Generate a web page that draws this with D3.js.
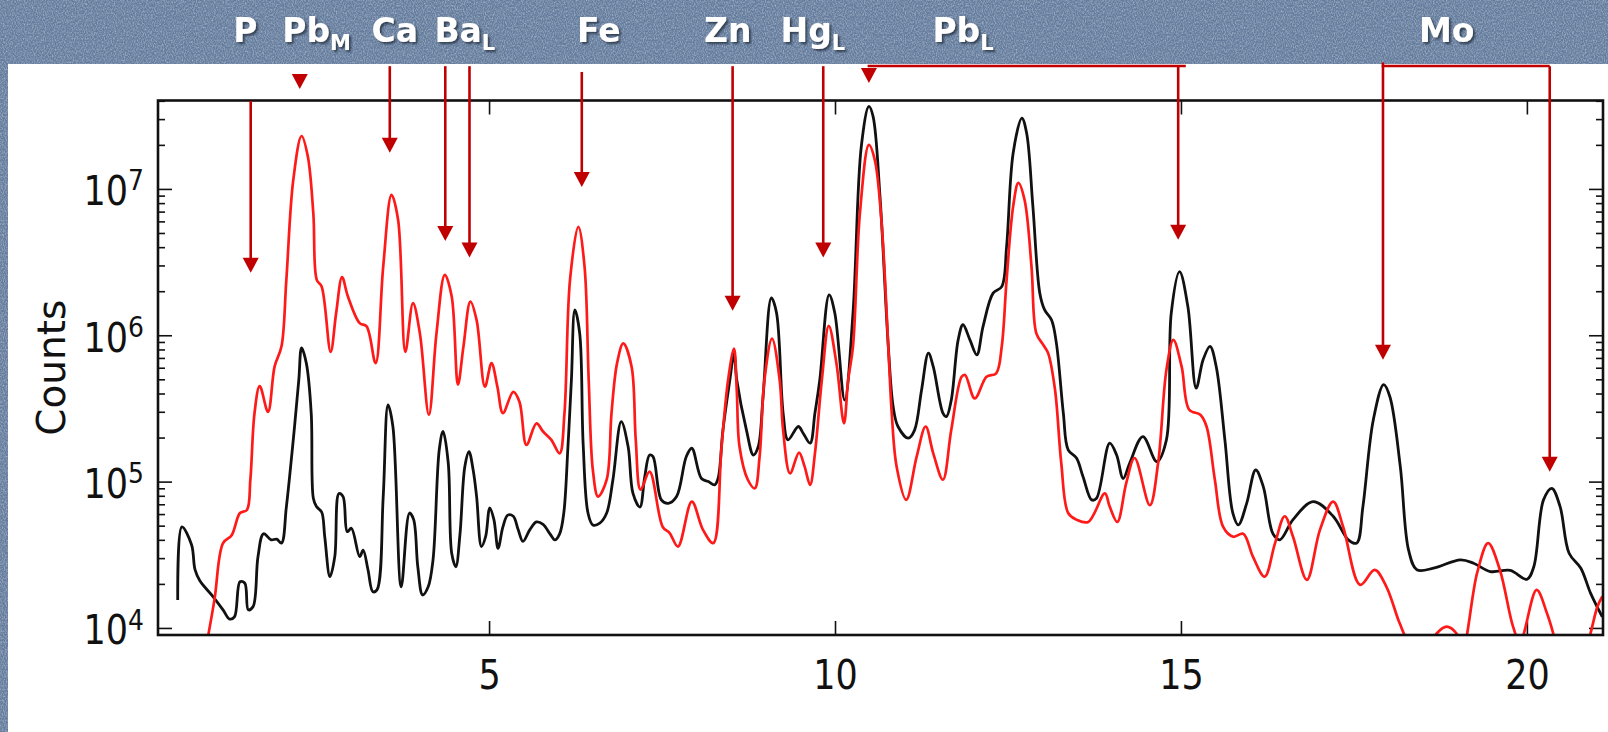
<!DOCTYPE html>
<html>
<head>
<meta charset="utf-8">
<script src="https://cdnjs.cloudflare.com/ajax/libs/d3/7.8.5/d3.min.js"></script>
<style>
  body { margin: 0; overflow: hidden; background: #fff; }
  .tick line { stroke: #111; stroke-width: 1.6; }
  .tick text { font-family: "DejaVu Sans", sans-serif; font-size: 35px; fill: #111; }
</style>
</head>
<body>
<svg id="chart" width="1608" height="732"></svg>
<script>
// spectrum, black trace (energy in keV, counts)
var blackKeV = [
  0.50, 0.56, 0.70, 0.75, 0.82, 1.01, 1.155, 1.25, 1.32, 1.40,
  1.47, 1.52, 1.59, 1.66, 1.74, 1.85, 1.93, 2.00, 2.07, 2.17,
  2.25, 2.29, 2.36, 2.43, 2.46, 2.505, 2.58, 2.625, 2.70, 2.77,
  2.83, 2.89, 2.95, 3.01, 3.13, 3.18, 3.25, 3.32, 3.38, 3.47,
  3.54, 3.61, 3.73, 3.85, 3.91, 3.97, 4.04, 4.12, 4.19, 4.28,
  4.335, 4.41, 4.46, 4.52, 4.58, 4.65, 4.71, 4.77, 4.82, 4.89,
  4.95, 5.01, 5.07, 5.13, 5.20, 5.27, 5.35, 5.42, 5.49, 5.59,
  5.685, 5.78, 5.88, 5.95, 6.02, 6.08, 6.14, 6.19, 6.24, 6.31,
  6.36, 6.43, 6.50, 6.60, 6.70, 6.79, 6.91, 7.01, 7.08, 7.18,
  7.25, 7.32, 7.37, 7.49, 7.59, 7.71, 7.85, 7.93, 8.07, 8.17,
  8.26, 8.31, 8.38, 8.48, 8.54, 8.58, 8.72, 8.82, 8.89, 8.96,
  9.08, 9.155, 9.25, 9.32, 9.47, 9.54, 9.64, 9.71, 9.78, 9.915,
  9.997, 10.14, 10.26, 10.38, 10.49, 10.55, 10.65, 10.77, 10.84, 10.91,
  11.06, 11.15, 11.25, 11.35, 11.42, 11.56, 11.61, 11.68, 11.78, 11.85,
  11.95, 12.05, 12.14, 12.285, 12.41, 12.48, 12.575, 12.70, 12.77, 12.86,
  12.96, 13.03, 13.13, 13.20, 13.30, 13.37, 13.49, 13.585, 13.71, 13.78,
  13.97, 14.07, 14.165, 14.26, 14.45, 14.65, 14.79, 14.86, 14.98, 15.10,
  15.22, 15.32, 15.42, 15.51, 15.635, 15.75, 15.83, 15.95, 16.08, 16.19,
  16.33, 16.43, 16.62, 16.91, 17.20, 17.42, 17.54, 17.63, 17.78, 17.93,
  18.02, 18.17, 18.29, 18.41, 18.65, 19.04, 19.23, 19.47, 19.76, 20.00,
  20.10, 20.24, 20.36, 20.48, 20.61, 20.78, 20.92, 21.09
];
var blackCounts = [
  1.55e4, 4.9e4, 3.7e4, 2.5e4, 2.1e4, 1.64e4, 1.33e4, 1.15e4, 1.19e4, 2.07e4,
  2.02e4, 1.33e4, 1.4e4, 3.07e4, 4.4e4, 4.0e4, 4.04e4, 3.8e4, 6.7e4, 1.93e5,
  4.95e5, 8.2e5, 6.4e5, 2.9e5, 7.7e4, 6.75e4, 6.2e4, 4.2e4, 2.24e4, 3.07e4,
  8.3e4, 7.9e4, 4.55e4, 4.8e4, 3.07e4, 3.4e4, 2.5e4, 1.77e4, 1.82e4, 7.9e4,
  3.34e5, 2.38e5, 1.91e4, 6.1e4, 5.5e4, 2.62e4, 1.68e4, 1.91e4, 2.92e4, 1.65e5,
  2.2e5, 1.34e5, 3.24e4, 2.62e4, 4.4e4, 1.27e5, 1.6e5, 1.2e5, 7.9e4, 3.6e4,
  4.2e4, 6.6e4, 5.5e4, 3.5e4, 4.9e4, 5.9e4, 5.8e4, 4.7e4, 3.9e4, 4.7e4,
  5.3e4, 5.1e4, 4.4e4, 4.0e4, 4.4e4, 6.1e4, 1.73e5, 4.95e5, 1.49e6, 1.03e6,
  1.8e5, 6.1e4, 5.06e4, 5.2e4, 6.1e4, 1.03e5, 2.57e5, 1.73e5, 8.3e4, 6.7e4,
  1.08e5, 1.52e5, 1.48e5, 7.5e4, 7.1e4, 7.9e4, 1.48e5, 1.69e5, 1.05e5, 1.0e5,
  9.5e4, 1.05e5, 2.25e5, 4.95e5, 7.5e5, 4.95e5, 2.25e5, 1.52e5, 1.73e5, 3.8e5,
  1.8e6, 1.42e6, 2.94e5, 1.93e5, 2.38e5, 2.14e5, 1.83e5, 2.94e5, 4.95e5, 1.89e6,
  1.42e6, 3.6e5, 1.42e6, 1.95e7, 3.66e7, 3.13e7, 8.9e6, 8.4e5, 3.26e5, 2.38e5,
  1.98e5, 2.25e5, 4.2e5, 7.55e5, 6.1e5, 2.94e5, 2.78e5, 3.6e5, 9.3e5, 1.18e6,
  9.3e5, 7.35e5, 1.15e6, 1.94e6, 2.15e6, 4.04e6, 1.76e7, 3.05e7, 2.4e7, 7.6e6,
  1.94e6, 1.49e6, 1.27e6, 8.8e5, 2.94e5, 1.65e5, 1.45e5, 1.08e5, 7.5e4, 7.7e4,
  1.83e5, 1.52e5, 1.05e5, 1.34e5, 2.03e5, 1.37e5, 1.93e5, 1.42e6, 2.72e6, 1.57e6,
  4.35e5, 6.8e5, 8.4e5, 6.1e5, 1.93e5, 6.1e4, 5.06e4, 7.1e4, 1.2e5, 9.25e4,
  4.4e4, 4.0e4, 5.5e4, 7.3e4, 5.8e4, 4.0e4, 3.8e4, 6.75e4, 2.64e5, 4.6e5,
  3.8e5, 1.27e5, 3.4e4, 2.5e4, 2.56e4, 2.92e4, 2.77e4, 2.43e4, 2.47e4, 2.15e4,
  2.62e4, 7.5e4, 9.0e4, 6.75e4, 3.24e4, 2.56e4, 1.73e4, 1.19e4
];

// spectrum, red trace
var redKeV = [
  0.875, 1.03, 1.155, 1.28, 1.40, 1.50, 1.55, 1.61, 1.685, 1.805,
  1.90, 2.00, 2.07, 2.17, 2.29, 2.38, 2.46, 2.51, 2.58, 2.71,
  2.79, 2.875, 2.96, 3.13, 3.23, 3.36, 3.47, 3.59, 3.685, 3.79,
  3.90, 4.00, 4.13, 4.24, 4.36, 4.46, 4.55, 4.63, 4.73, 4.82,
  4.94, 5.035, 5.12, 5.20, 5.35, 5.44, 5.54, 5.685, 5.78, 5.90,
  6.02, 6.09, 6.17, 6.29, 6.38, 6.44, 6.50, 6.575, 6.70, 6.77,
  6.85, 6.94, 7.06, 7.12, 7.19, 7.32, 7.51, 7.61, 7.73, 7.93,
  8.09, 8.24, 8.36, 8.455, 8.54, 8.58, 8.62, 8.74, 8.84, 8.91,
  8.98, 9.09, 9.20, 9.25, 9.35, 9.48, 9.56, 9.64, 9.71, 9.81,
  9.91, 10.02, 10.13, 10.19, 10.26, 10.36, 10.49, 10.575, 10.67, 10.77,
  10.82, 10.89, 11.03, 11.18, 11.31, 11.42, 11.56, 11.68, 11.83, 11.88,
  12.02, 12.19, 12.33, 12.41, 12.48, 12.575, 12.65, 12.74, 12.84, 12.91,
  13.01, 13.08, 13.18, 13.27, 13.37, 13.49, 13.66, 13.90, 13.97, 14.08,
  14.21, 14.33, 14.55, 14.67, 14.79, 14.89, 15.01, 15.12, 15.28, 15.37,
  15.49, 15.61, 15.755, 15.90, 16.04, 16.21, 16.36, 16.50, 16.62, 16.82,
  17.01, 17.20, 17.345, 17.59, 17.80, 17.97, 18.16, 18.31, 18.52, 18.70,
  18.84, 18.98, 19.07, 19.28, 19.44, 19.61, 19.80, 19.90, 20.14, 20.29,
  20.38, 20.55, 20.70, 20.92, 21.02, 21.09
];
var redCounts = [
  6.0e3, 1.55e4, 3.8e4, 4.3e4, 6.1e4, 6.4e4, 1.03e5, 2.94e5, 4.5e5, 3.0e5,
  6.1e5, 8.4e5, 2.39e6, 1.15e7, 2.3e7, 1.67e7, 6.8e6, 2.39e6, 2.15e6, 7.7e5,
  1.42e6, 2.5e6, 1.84e6, 1.21e6, 1.15e6, 6.45e5, 2.95e6, 9.1e6, 6.15e6, 7.7e5,
  1.66e6, 1.03e6, 2.86e5, 1.03e6, 2.59e6, 1.84e6, 4.6e5, 8.4e5, 1.7e6, 1.27e6,
  4.45e5, 6.45e5, 4.45e5, 2.94e5, 4.1e5, 3.5e5, 1.78e5, 2.5e5, 2.2e5, 1.93e5,
  1.56e5, 2.94e5, 2.39e6, 5.5e6, 2.95e6, 4.95e5, 1.2e5, 7.9e4, 1.03e5, 2.95e5,
  6.45e5, 8.8e5, 6.1e5, 1.93e5, 8.8e4, 1.17e5, 4.9e4, 4.45e4, 3.6e4, 7.3e4,
  4.7e4, 3.8e4, 1.73e5, 4.95e5, 8.1e5, 4.2e5, 1.73e5, 1.03e5, 9.0e4, 1.48e5,
  4.95e5, 9.5e5, 4.95e5, 2.25e5, 1.14e5, 1.58e5, 1.27e5, 9.5e4, 1.56e5, 4.95e5,
  1.16e6, 6.45e5, 2.5e5, 4.95e5, 8.4e5, 6.8e6, 2.0e7, 1.58e7, 6.15e6, 8.4e5,
  2.94e5, 1.27e5, 7.5e4, 1.48e5, 2.38e5, 1.56e5, 1.03e5, 2.25e5, 5.2e5, 5.36e5,
  3.7e5, 5.2e5, 5.5e5, 8.4e5, 2.39e6, 7.6e6, 1.1e7, 8.4e6, 2.95e6, 1.03e6,
  8.6e5, 7.55e5, 4.24e5, 1.34e5, 6.1e4, 5.5e4, 5.3e4, 8.3e4, 6.75e4, 5.3e4,
  9.8e4, 1.45e5, 6.9e4, 1.34e5, 5.8e5, 9.3e5, 6.1e5, 3.1e5, 2.86e5, 2.38e5,
  1.03e5, 4.9e4, 4.2e4, 4.4e4, 3.07e4, 2.24e4, 3.8e4, 5.8e4, 4.2e4, 2.13e4,
  4.7e4, 7.3e4, 4.9e4, 1.97e4, 2.49e4, 1.91e4, 1.08e4, 7.7e3, 6.5e3, 9.2e3,
  1.02e4, 9.2e3, 7.1e3, 2.37e4, 3.8e4, 2.49e4, 1.02e4, 8.0e3, 1.82e4, 1.26e4,
  9.2e3, 4.4e3, 3.8e3, 9.2e3, 1.4e4, 1.64e4
];

var xTickValues = [5, 10, 15, 20];
var yMajorValues = [1e4, 1e5, 1e6, 1e7];

// element labels in the header band (energy of label centre)
var elementNames = ["P", "Pb", "Ca", "Ba", "Fe", "Zn", "Hg", "Pb", "Mo"];
var elementSubs  = ["", "M", "", "L", "", "", "L", "L", ""];
var elementKeV   = [1.476, 2.507, 3.637, 4.649, 6.586, 8.45, 9.68, 11.85, 18.84];

// arrows: x (keV), tip (counts), top of the shaft (counts, null = head only)
var arrowKeV = [1.555, 2.264, 3.565, 4.367, 4.717, 6.34, 8.52, 9.83, 10.49, 14.96, 17.92, 20.33];
var arrowTip = [2.67e6, 4.82e7, 1.77e7, 4.4e6, 3.4e6, 1.03e7, 1.47e6, 3.4e6, 5.3e7, 4.5e6, 6.8e5, 1.17e5];
var arrowTop = [4.0e7, null, 6.9e7, 6.9e7, 6.9e7, 6.3e7, 6.9e7, 6.9e7, null, 6.9e7, 7.3e7, 6.9e7];
// horizontal brackets joining Pb L and Mo arrows
var bracketFrom = [10.49, 17.92];
var bracketTo   = [15.07, 20.33];
var bracketLevel = 6.92e7;

var width = 1608;
var height = 732;
var plot = { left: 158, top: 100.5, right: 1603, bottom: 635 };
var arrowColor = "#c00000";
var stretch = 1.15;   // the pasted figure is a little taller than wide

var svg = d3.select("#chart");
var defs = svg.append("defs");

// canvas-like texture for the slide background
var canvas = defs.append("filter").attr("id", "canvas")
    .attr("x", 0).attr("y", 0).attr("width", "100%").attr("height", "100%");
canvas.append("feTurbulence").attr("type", "fractalNoise")
    .attr("baseFrequency", "0.9 0.55").attr("numOctaves", 2).attr("seed", 7);
canvas.append("feColorMatrix").attr("type", "matrix")
    .attr("values", "0 0 0 0 1  0 0 0 0 1  0 0 0 0 1  0.8 0 0 0 -0.3");

var shadow = defs.append("filter").attr("id", "shadow")
    .attr("x", "-20%").attr("y", "-20%").attr("width", "140%").attr("height", "150%");
shadow.append("feDropShadow").attr("dx", 2).attr("dy", 2).attr("stdDeviation", 1.2)
    .attr("flood-color", "#1c2636").attr("flood-opacity", 0.75);

defs.append("clipPath").attr("id", "plotclip").append("rect")
    .attr("x", plot.left).attr("y", plot.top)
    .attr("width", plot.right - plot.left).attr("height", plot.bottom - plot.top);

svg.append("rect").attr("width", width).attr("height", height).attr("fill", "#647c9d");
svg.append("rect").attr("width", width).attr("height", height).attr("fill", "#fff").attr("filter", "url(#canvas)");
svg.append("rect").attr("x", 8).attr("y", 64).attr("width", width - 8).attr("height", height - 64).attr("fill", "#fff");

//  scales
var x = d3.scaleLinear().domain([0.215, 21.1]).range([plot.left, plot.right]);
var y = d3.scaleLog().domain([8.95e3, 4.02e7]).range([plot.bottom, plot.top]);

var minorValues = y.ticks().filter(function (d) {
    return yMajorValues.indexOf(d) < 0;
});

// minor + major ticks on all four sides, pointing inwards
svg.append("g").attr("transform", "translate(" + plot.left + ",0)")
    .call(d3.axisLeft(y).tickValues(minorValues).tickSize(-7).tickFormat(""));
svg.append("g").attr("transform", "translate(" + plot.right + ",0)")
    .call(d3.axisRight(y).tickValues(minorValues).tickSize(-7).tickFormat(""));
svg.append("g").attr("transform", "translate(" + plot.right + ",0)")
    .call(d3.axisRight(y).tickValues(yMajorValues).tickSize(-14).tickFormat(""));
svg.append("g").attr("transform", "translate(0," + plot.top + ")")
    .call(d3.axisTop(x).tickValues(xTickValues).tickSize(-14).tickFormat(""));

var yAxis = svg.append("g").attr("transform", "translate(" + plot.left + ",0)")
    .call(d3.axisLeft(y).tickValues(yMajorValues).tickSize(-14).tickPadding(14));
yAxis.selectAll(".tick text").each(function (d) {
    var t = d3.select(this);
    t.text(null).attr("dy", null).attr("y", 0)
        .attr("transform", "translate(0,16) scale(1," + stretch + ")");
    t.append("tspan").text("10");
    t.append("tspan").attr("dy", -13).attr("font-size", 25).text(Math.round(Math.log10(d)));
});

var xAxis = svg.append("g").attr("transform", "translate(0," + plot.bottom + ")")
    .call(d3.axisBottom(x).tickValues(xTickValues).tickSize(-14).tickFormat(d3.format("d")));
xAxis.selectAll(".tick text")
    .attr("y", 0).attr("dy", null)
    .attr("transform", "translate(0,54) scale(1," + stretch + ")");

svg.selectAll(".domain").remove();

svg.append("text")
    .attr("transform", "translate(51," + ((plot.top + plot.bottom) / 2) + ") rotate(-90)")
    .attr("text-anchor", "middle")
    .attr("dy", "0.36em")
    .style("font-family", "'DejaVu Sans', sans-serif")
    .style("font-size", "39px")
    .attr("fill", "#111")
    .text("Counts");

//  spectra
var line = d3.line()
    .x(function (d) { return x(d[0]); })
    .y(function (d) { return y(d[1]); })
    .curve(d3.curveCatmullRom.alpha(0.5));

var traces = svg.append("g").attr("clip-path", "url(#plotclip)");
traces.append("path").datum(d3.zip(blackKeV, blackCounts))
    .attr("d", line).attr("fill", "none")
    .attr("stroke", "#111").attr("stroke-width", 2.8).attr("stroke-linejoin", "round");
traces.append("path").datum(d3.zip(redKeV, redCounts))
    .attr("d", line).attr("fill", "none")
    .attr("stroke", "#ff1a1a").attr("stroke-width", 2.7).attr("stroke-linejoin", "round");

svg.append("rect")
    .attr("x", plot.left).attr("y", plot.top)
    .attr("width", plot.right - plot.left).attr("height", plot.bottom - plot.top)
    .attr("fill", "none").attr("stroke", "#111").attr("stroke-width", 2.6);

//  annotation arrows
var headW = 8, headH = 15;
var arrows = svg.append("g");
arrowKeV.forEach(function (k, i) {
    var ax = x(k), tip = y(arrowTip[i]);
    if (arrowTop[i] !== null) {
        arrows.append("line")
            .attr("x1", ax).attr("x2", ax)
            .attr("y1", y(arrowTop[i])).attr("y2", tip - headH + 1)
            .attr("stroke", arrowColor).attr("stroke-width", 2.6);
    }
    arrows.append("path")
        .attr("d", "M" + (ax - headW) + "," + (tip - headH) + "L" + (ax + headW) + "," + (tip - headH) + "L" + ax + "," + tip + "Z")
        .attr("fill", arrowColor);
});
bracketFrom.forEach(function (k, i) {
    arrows.append("line")
        .attr("x1", x(k) - 1.3).attr("x2", x(bracketTo[i]))
        .attr("y1", y(bracketLevel)).attr("y2", y(bracketLevel))
        .attr("stroke", arrowColor).attr("stroke-width", 2.6);
});

//  element labels in the header
var labels = svg.append("g")
    .style("font-family", "'DejaVu Sans', sans-serif")
    .style("font-weight", "bold")
    .attr("fill", "#fff")
    .attr("filter", "url(#shadow)");
elementNames.forEach(function (name, i) {
    var t = labels.append("text")
        .attr("x", x(elementKeV[i])).attr("y", 42)
        .attr("text-anchor", "middle")
        .style("font-size", "33px");
    t.append("tspan").text(name);
    if (elementSubs[i]) {
        t.append("tspan").attr("dy", 8).style("font-size", "21px").text(elementSubs[i]);
    }
});
</script>
</body>
</html>
